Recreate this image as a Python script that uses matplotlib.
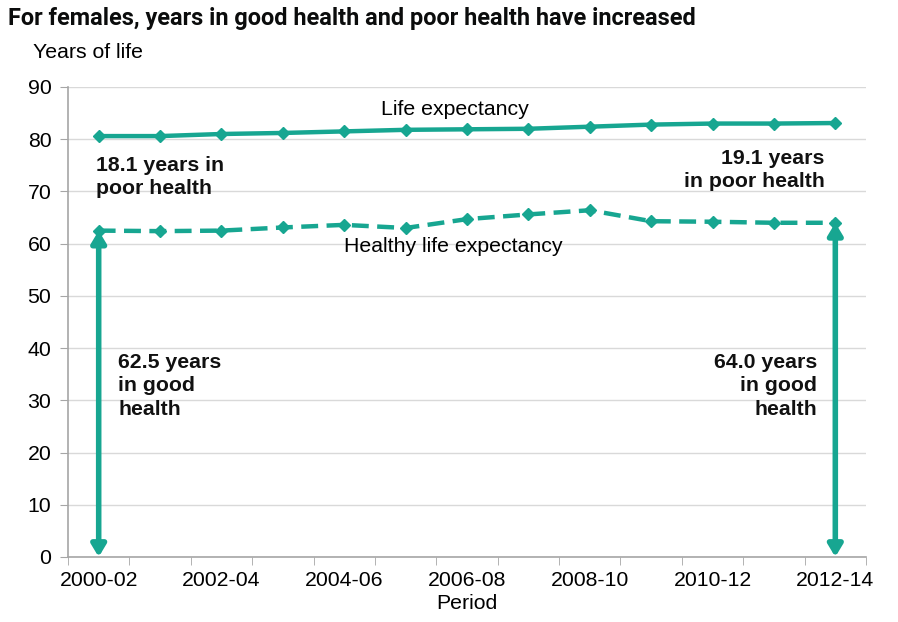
import matplotlib
matplotlib.use("Agg")
import matplotlib.pyplot as plt
import numpy as np

# ---------------------------------------------------------------------------
# Data
# ---------------------------------------------------------------------------
periods = ["2000-02", "2001-03", "2002-04", "2003-05", "2004-06", "2005-07",
           "2006-08", "2007-09", "2008-10", "2009-11", "2010-12", "2011-13",
           "2012-14"]
life_exp = [80.6, 80.6, 81.0, 81.2, 81.5, 81.8, 81.9, 82.0, 82.4, 82.8,
            83.0, 83.0, 83.1]
healthy_exp = [62.5, 62.4, 62.5, 63.1, 63.6, 63.0, 64.7, 65.6, 66.4, 64.3,
               64.2, 64.0, 64.0]

TEAL = "#17a691"
GRID = "#d9d9d9"
AXIS = "#a6a6a6"
FS = 15.3

plt.rcParams["font.family"] = ["Liberation Sans", "DejaVu Sans"]

fig = plt.figure(figsize=(8.98, 6.22), dpi=100)
ax = fig.add_axes([68 / 898, 65 / 622, 798 / 898, 470 / 622])

x = np.arange(len(periods))
ax.plot(x, life_exp, color=TEAL, lw=3.2, marker="D", ms=6, zorder=3)
ax.plot(x, healthy_exp, color=TEAL, lw=3.2, ls=(0, (3.8, 1.9)), marker="D",
        ms=6, zorder=3)

# double headed arrows for years in good health
for i in (0, len(periods) - 1):
    ax.annotate("", xy=(x[i], 0), xytext=(x[i], healthy_exp[i]),
                arrowprops=dict(arrowstyle="<|-|>,head_length=0.7,head_width=0.42",
                                color=TEAL, lw=4, shrinkA=0, shrinkB=0),
                zorder=4)

ax.set_xlim(-0.5, len(periods) - 0.5)
ax.set_ylim(0, 90)
ax.set_yticks(range(0, 91, 10))
ax.set_xticks(x[::2])
ax.set_xticklabels(periods[::2])
ax.set_xticks(np.arange(-0.5, len(periods)), minor=True)
ax.tick_params(axis="x", which="major", length=0, labelsize=FS, pad=10)
ax.tick_params(axis="x", which="minor", length=6, color=AXIS)
ax.tick_params(axis="y", length=6, color=AXIS, labelsize=FS, pad=6)
ax.grid(axis="y", color=GRID, lw=1)
ax.set_axisbelow(True)
for s in ("top", "right"):
    ax.spines[s].set_visible(False)
for s in ("left", "bottom"):
    ax.spines[s].set_color(AXIS)
    ax.spines[s].set_linewidth(1.2)

ax.set_xlabel("Period", fontsize=FS, labelpad=3)

# line labels
ax.text(5.81, 85.6, "Life expectancy", fontsize=FS, ha="center", va="center")
ax.text(5.78, 59.5, "Healthy life expectancy", fontsize=FS, ha="center",
        va="center")

# annotations
bold = dict(fontsize=FS, fontweight="bold", linespacing=1.3, color="#111111")
ax.text(-0.04, 76.8, "18.1 years in\npoor health", ha="left", va="top", **bold)
ax.text(11.83, 78.2, "19.1 years\nin poor health", ha="right", va="top", **bold)
ax.text(0.32, 39.1, "62.5 years\nin good\nhealth", ha="left", va="top", **bold)
ax.text(11.7, 39.1, "64.0 years\nin good\nhealth", ha="right", va="top", **bold)

fig.text(8 / 898, 1 - 18 / 622,
         "For females, years in good health and poor health have increased",
         fontsize=16.9, fontweight="bold", family=["Roboto", "DejaVu Sans"],
         ha="left", va="center", color="#0b0c0c")
fig.text(33 / 898, 1 - 52 / 622, "Years of life", fontsize=FS, ha="left",
         va="center")

fig.savefig("out.png", dpi=100)
